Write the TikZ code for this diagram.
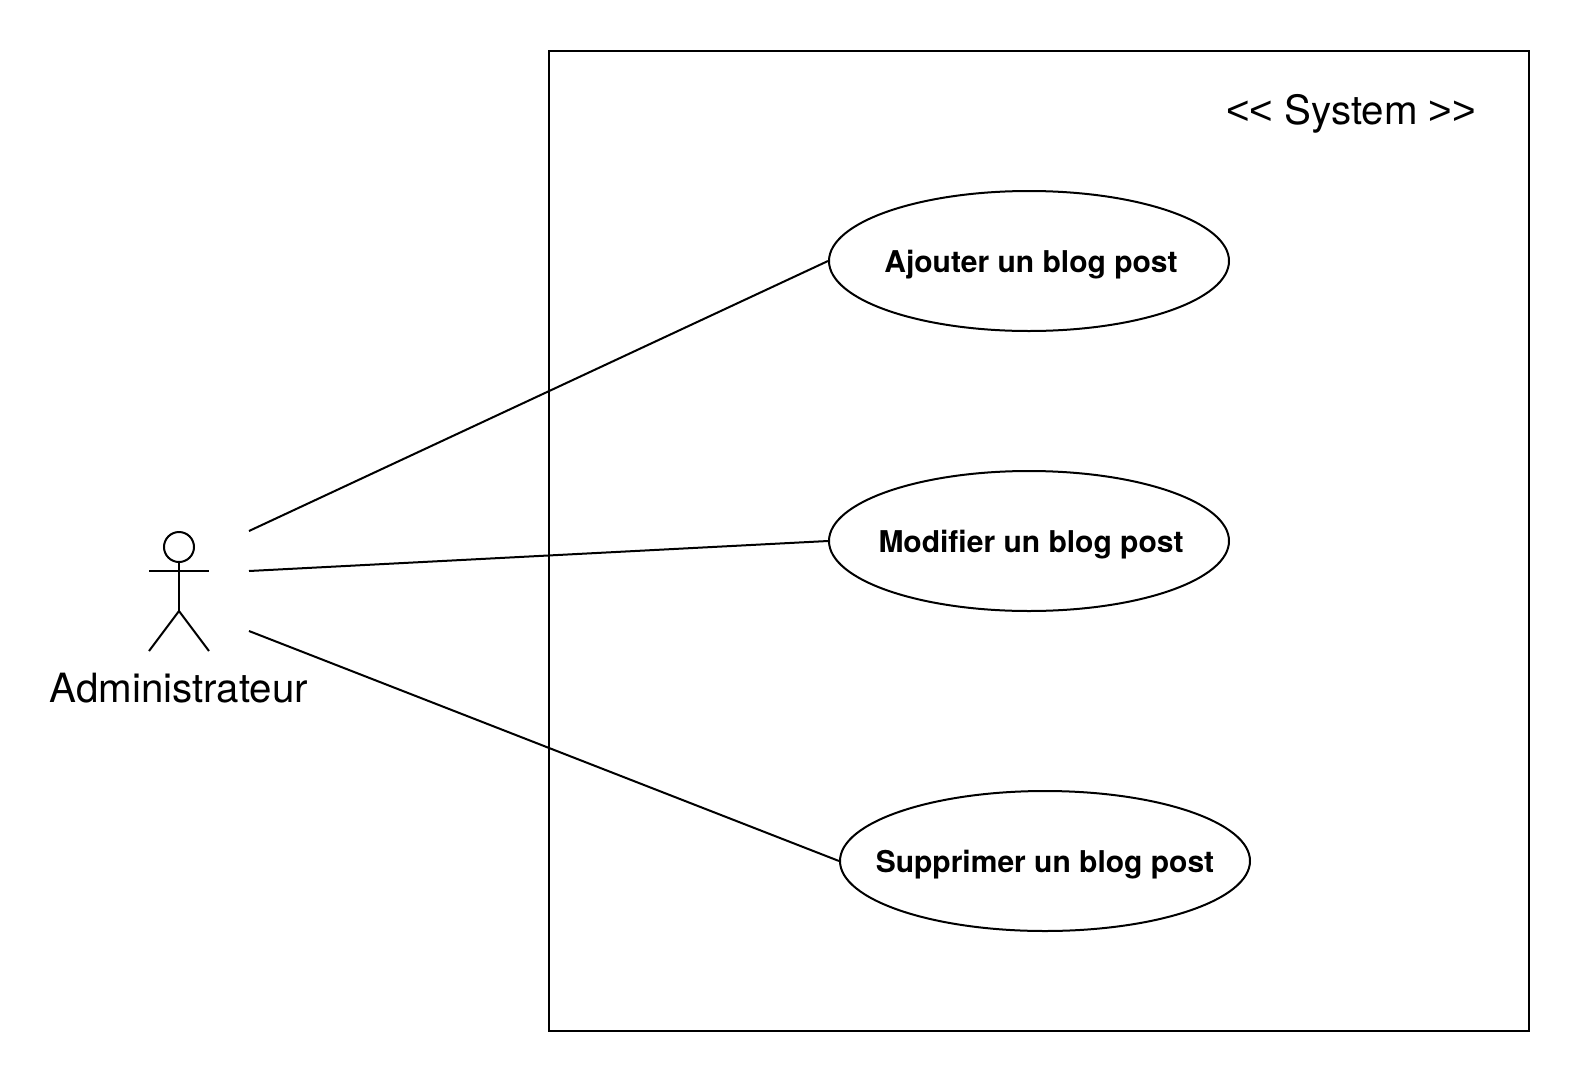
\documentclass[tikz,border=0pt]{standalone}
\usepackage{fontspec}
\setmainfont{TeX Gyre Heros}
\newfontfamily\libsans{Liberation Sans}
\usetikzlibrary{shapes.geometric}
\tikzset{
  line/.style={line width=2pt,black},
  usecase/.style={ellipse,draw,line width=2pt,inner sep=0pt},
  uctext/.style={anchor=base,inner sep=0pt,font=\fontsize{30pt}{36pt}\selectfont\bfseries},
  label/.style={inner sep=0pt,font=\fontsize{40.3pt}{48pt}\selectfont}
}
\begin{document}
\begin{tikzpicture}[x=1pt,y=-1pt]
\useasboundingbox (0,0) rectangle (1580,1082);
\node[draw,line width=2pt,minimum width=980pt,minimum height=980pt,inner sep=0pt] (sys) at (1038.5,540.5) {};
\node[usecase,minimum width=400pt,minimum height=140pt] (a) at (1029,261) {};
\node[usecase,minimum width=400pt,minimum height=140pt] (b) at (1029,541) {};
\node[usecase,minimum width=410pt,minimum height=140pt] (c) at (1045,861) {};
\node[uctext] (at) at (1031,272) {Ajouter un blog post};
\node[uctext] (bt) at (1031,552) {Modifier un blog post};
\node[uctext] (ct) at (1045,872) {Supprimer un blog post};
\node[label,anchor=base] (systxt) at (1351,124) {{\libsans <{}<} System {\libsans >{}>}};
\node[draw,circle,line width=2pt,minimum size=30pt,inner sep=0pt] (hd) at (179,547) {};
\coordinate (hip) at (179,611);
\coordinate (armL) at (149,571);
\coordinate (armR) at (209,571);
\coordinate (footL) at (149,651);
\coordinate (footR) at (209,651);
\draw[line] (hd.south) -- (hip);
\draw[line] (armL) -- (armR);
\draw[line] (footL) -- (hip) -- (footR);
\node[label,anchor=base] (adm) at (179,702) {Administrateur};
\coordinate (p1) at (249,531);
\coordinate (p2) at (249,571);
\coordinate (p3) at (249,631);
\draw[line] (p1) -- (a.west);
\draw[line] (p2) -- (b.west);
\draw[line] (p3) -- (c.west);
\end{tikzpicture}
\end{document}
